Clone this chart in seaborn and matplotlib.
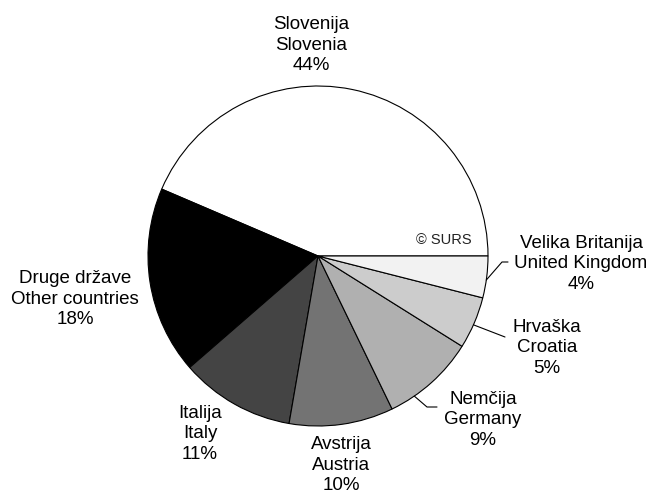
import numpy as np
import matplotlib
matplotlib.use("Agg")
import matplotlib.pyplot as plt
import seaborn as sns

sns.set_theme(style="white")
plt.rcParams["font.family"] = ["Liberation Sans", "DejaVu Sans"]

# ------------------------------------------
# Data
# ------------------------------------------
names_sl = ["Slovenija", "Druge države", "Italija", "Avstrija", "Nemčija", "Hrvaška", "Velika Britanija"]
names_en = ["Slovenia", "Other countries", "Italy", "Austria", "Germany", "Croatia", "United Kingdom"]
shares = [44, 18, 11, 10, 9, 5, 4]
greys = ["#ffffff", "#000000", "#444444", "#737373", "#b0b0b0", "#cccccc", "#f2f2f2"]

# label centres in pixels (x, y from top) – layout only
label_px = [(311, 45), (75, 299), (200, 434), (341, 465), (483, 420), (547, 348), (581, 264)]
# leader lines: where on the slice arc they start (fraction of the slice) and their bend points
leader_at = {4: 0.27, 5: 0.46, 6: 0.43}
leaders = {4: [(427, 407), (437, 407)], 5: [(505, 337)], 6: [(502, 262), (508, 262)]}

# ------------------------------------------
# Figure
# ------------------------------------------
W, H = 650, 493
cx, cy, r = 318, 256, 170
fig = plt.figure(figsize=(W / 100, H / 100), dpi=100)
ax = fig.add_axes([(cx - r) / W, (H - cy - r) / H, 2 * r / W, 2 * r / H])

wedges, _ = ax.pie(shares, colors=greys, startangle=0, counterclock=True,
                   wedgeprops=dict(edgecolor="black", linewidth=0.8))
ax.set_xlim(-1, 1)
ax.set_ylim(-1, 1)
ax.axis("off")


def to_data(p):
    return (p[0] - cx) / r, (cy - p[1]) / r


for i, w in enumerate(wedges):
    x, y = to_data(label_px[i])
    ax.text(x, y, f"{names_sl[i]}\n{names_en[i]}\n{shares[i]}%",
            ha="center", va="center", fontsize=13.5, linespacing=1.25,
            color="black")
    if i in leaders:
        ang = np.deg2rad(w.theta1 + leader_at[i] * (w.theta2 - w.theta1))
        pts = [(np.cos(ang), np.sin(ang))] + [to_data(p) for p in leaders[i]]
        xs, ys = zip(*pts)
        ax.plot(xs, ys, color="black", linewidth=0.8, clip_on=False)

sx, sy = to_data((472, 240))
ax.text(sx, sy, "© SURS", ha="right", va="center", fontsize=10.5, color="#222222")

fig.savefig("out.png", dpi=100)
